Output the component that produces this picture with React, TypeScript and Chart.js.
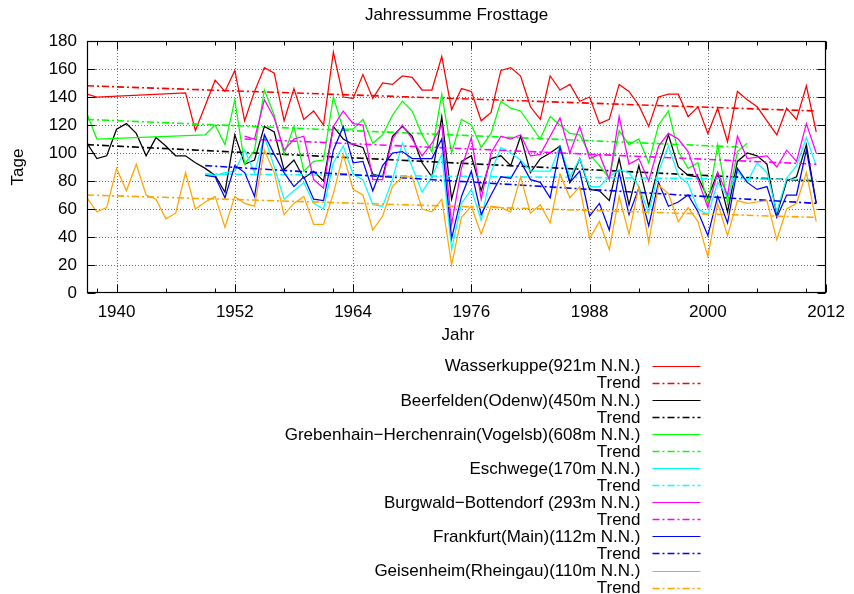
import React, { useEffect, useRef } from "react";
import { Chart, registerables } from "chart.js";

Chart.register(...registerables);

// ---------------- data ----------------
const YEARS = [
  1937, 1938, 1939, 1940, 1941, 1942, 1943, 1944, 1945, 1946,
  1947, 1948, 1949, 1950, 1951, 1952, 1953, 1954, 1955, 1956,
  1957, 1958, 1959, 1960, 1961, 1962, 1963, 1964, 1965, 1966,
  1967, 1968, 1969, 1970, 1971, 1972, 1973, 1974, 1975, 1976,
  1977, 1978, 1979, 1980, 1981, 1982, 1983, 1984, 1985, 1986,
  1987, 1988, 1989, 1990, 1991, 1992, 1993, 1994, 1995, 1996,
  1997, 1998, 1999, 2000, 2001, 2002, 2003, 2004, 2005, 2006,
  2007, 2008, 2009, 2010, 2011,
];

const N = null;

const WASSERKUPPE = [
  142, 140, N, N, N, N, N, N, N, N,
  143, 116, 134, 152, 144, 159, 123, 144, 161, 157,
  123, 146, 124, 130, 120, 172, 140, 139, 156, 139,
  150, 149, 155, 154, 145, 145, 169, 131, 146, 144,
  123, 129, 159, 161, 155, 133, 124, 155, 145, 149,
  137, 140, 121, 124, 149, 144, 134, 119, 140, 142,
  142, 126, 133, 114, 132, 108, 144, 138, 133, 123,
  113, 132, 124, 148, 115,
];

const BEERFELDEN = [
  107, 96, 98, 117, 121, 114, 98, 111, 105, 98,
  98, 93, 89, 84, 72, 113, 92, 95, 119, 115,
  88, 95, 82, 87, 80, 119, 110, 106, 104, 85,
  83, 112, 119, 112, 93, 83, 126, 67, 94, 98,
  73, 96, 98, 91, 112, 86, 96, 100, 105, 79,
  96, 74, 73, 66, 96, 63, 91, 62, 91, 113,
  90, 84, 83, 68, 86, 58, 94, 100, 98, 92,
  56, 80, 83, 106, 64,
];

const GREBENHAIN = [
  128, 110, N, N, N, N, N, N, N, N,
  N, N, 113, 120, 106, 138, 92, 102, 145, 127,
  99, 119, 87, 94, 95, 140, 117, 117, 124, 107,
  113, 127, 137, 130, 113, 101, 142, 100, 124, 120,
  104, 114, 137, 132, 130, 120, 110, 126, 120, 114,
  113, 99, 91, 82, 116, 106, 110, 93, 120, 130,
  101, 89, 93, 63, 106, 64, 101, 107, N, N,
  N, N, N, N, N,
];

const ESCHWEGE = [
  N, N, N, N, N, N, N, N, N, N,
  N, N, 85, 84, 86, 87, 102, 86, 112, 90,
  67, 73, 79, 64, 60, 93, 105, 85, 81, 63,
  62, 81, 107, 90, 72, 83, 99, 31, 64, 74,
  52, 86, 104, 100, 95, 87, 87, 87, 105, 83,
  96, 76, 76, 83, 88, 86, 76, 57, 87, 105,
  84, 78, 60, 56, 79, 69, 87, 79, 93, 86,
  58, 82, 91, 111, 91,
];

const BURGWALD = [
  N, N, N, N, N, N, N, N, N, N,
  N, N, N, N, N, N, 112, 110, 138, 125,
  102, 110, 112, 81, 75, 119, 130, 121, 120, 81,
  81, 110, 120, 110, 98, 107, 120, 49, 89, 111,
  67, 100, 112, 110, 113, 98, 99, 112, 125, 100,
  119, 96, 99, 81, 126, 92, 96, 80, 105, 114,
  110, 101, 81, 61, 86, 70, 112, 96, 97, 98,
  90, 102, 94, 121, 100,
];

const FRANKFURT = [
  N, N, N, N, N, N, N, N, N, N,
  N, N, 84, 83, 68, 91, 86, 69, 113, 99,
  86, 76, 83, 67, 66, 102, 119, 93, 94, 73,
  91, 100, 101, 96, 96, 96, 110, 39, 69, 87,
  56, 70, 83, 82, 94, 81, 79, 68, 104, 79,
  87, 55, 64, 45, 86, 56, 75, 48, 79, 62,
  65, 70, 58, 41, 69, 50, 89, 79, 74, 76,
  54, 70, 70, 102, 64,
];

const GEISENHEIM = [
  68, 58, 61, 89, 73, 92, 70, 67, 53, 57,
  86, 60, 65, 69, 47, 69, 64, 62, 102, 86,
  56, 64, 69, 49, 49, 71, 99, 74, 70, 45,
  55, 76, 83, 83, 60, 58, 67, 20, 54, 62,
  42, 62, 61, 58, 83, 57, 63, 50, 85, 68,
  76, 39, 51, 31, 69, 42, 76, 36, 77, 71,
  51, 61, 51, 26, 64, 41, 66, 64, 65, 66,
  38, 60, 64, 86, 51,
];

// linear trend lines: [start year, end year] and [start value, end value]
const TREND_YEARS_WASSERKUPPE = [1937, 2011];
const TREND_WASSERKUPPE = [148, 130];
const TREND_YEARS_BEERFELDEN = [1937, 2011];
const TREND_BEERFELDEN = [106, 80];
const TREND_YEARS_GREBENHAIN = [1937, 2004];
const TREND_GREBENHAIN = [124, 104];
const TREND_YEARS_ESCHWEGE = [1949, 2011];
const TREND_ESCHWEGE = [85, 81];
const TREND_YEARS_BURGWALD = [1953, 2011];
const TREND_BURGWALD = [110, 92];
const TREND_YEARS_FRANKFURT = [1949, 2011];
const TREND_FRANKFURT = [91, 64];
const TREND_YEARS_GEISENHEIM = [1937, 2011];
const TREND_GEISENHEIM = [70, 54];

const STATION_NAMES = [
  "Wasserkuppe(921m N.N.)",
  "Beerfelden(Odenw)(450m N.N.)",
  "Grebenhain\u2212Herchenrain(Vogelsb)(608m N.N.)",
  "Eschwege(170m N.N.)",
  "Burgwald\u2212Bottendorf (293m N.N.)",
  "Frankfurt(Main)(112m N.N.)",
  "Geisenheim(Rheingau)(110m N.N.)",
];
const TREND_LABEL = "Trend";

const X_MIN = 1937;
const X_MAX = 2012;
const X_TICKS = [1940, 1952, 1964, 1976, 1988, 2000, 2012];
const X_MINOR_TICKS = [1938, 1945, 1950, 1957, 1962, 1969, 1974, 1981, 1986, 1993, 1998, 2005, 2010];
const Y_MIN = 0;
const Y_MAX = 180;
const Y_TICKS = [0, 20, 40, 60, 80, 100, 120, 140, 160, 180];

const TITLE = "Jahressumme Frosttage";
const X_TITLE = "Jahr";
const Y_TITLE = "Tage";

const COLORS = ["#ff0000", "#000000", "#00ff00", "#00ffff", "#ff00ff", "#0000ff", "#ffa500"];
const FONT = '"Liberation Sans", Arial, Helvetica, sans-serif';
const TREND_DASH = [7, 3, 2, 3];

// ---------------- helpers ----------------
function toPoints(years: number[], values: (number | null)[]) {
  const out: { x: number; y: number }[] = [];
  for (let i = 0; i < years.length; i++) {
    const v = values[i];
    if (v !== null && v !== undefined) out.push({ x: years[i], y: v });
  }
  return out;
}

const STATION_VALUES = [WASSERKUPPE, BEERFELDEN, GREBENHAIN, ESCHWEGE, BURGWALD, FRANKFURT, GEISENHEIM];
const TREND_YEARS = [
  TREND_YEARS_WASSERKUPPE, TREND_YEARS_BEERFELDEN, TREND_YEARS_GREBENHAIN, TREND_YEARS_ESCHWEGE,
  TREND_YEARS_BURGWALD, TREND_YEARS_FRANKFURT, TREND_YEARS_GEISENHEIM,
];
const TREND_VALUES = [
  TREND_WASSERKUPPE, TREND_BEERFELDEN, TREND_GREBENHAIN, TREND_ESCHWEGE,
  TREND_BURGWALD, TREND_FRANKFURT, TREND_GEISENHEIM,
];

function buildDatasets() {
  const ds: any[] = [];
  STATION_NAMES.forEach((name, i) => {
    ds.push({
      label: name,
      data: toPoints(YEARS, STATION_VALUES[i]),
      borderColor: COLORS[i],
      backgroundColor: COLORS[i],
      borderWidth: 1.25,
      pointRadius: 0,
      tension: 0,
      fill: false,
    });
    ds.push({
      label: TREND_LABEL,
      data: toPoints(TREND_YEARS[i], TREND_VALUES[i]),
      borderColor: COLORS[i],
      backgroundColor: COLORS[i],
      borderWidth: 1.6,
      borderDash: TREND_DASH,
      pointRadius: 0,
      tension: 0,
      fill: false,
    });
  });
  // later series drawn on top (gnuplot order)
  ds.forEach((d, i) => (d.order = ds.length - i));
  return ds;
}

const decorPlugin = {
  id: "decor",
  beforeDatasetsDraw(chart: any) {
    const { ctx, chartArea: a, scales } = chart;
    const x = scales.x;
    const y = scales.y;
    ctx.save();
    ctx.strokeStyle = "#707070";
    ctx.lineWidth = 1;
    ctx.setLineDash([1, 2]);
    for (const t of X_TICKS) {
      if (t <= X_MIN || t >= X_MAX) continue;
      const px = Math.round(x.getPixelForValue(t)) + 0.5;
      ctx.beginPath();
      ctx.moveTo(px, a.top);
      ctx.lineTo(px, a.bottom);
      ctx.stroke();
    }
    for (const t of Y_TICKS) {
      if (t <= Y_MIN || t >= Y_MAX) continue;
      const py = Math.round(y.getPixelForValue(t)) + 0.5;
      ctx.beginPath();
      ctx.moveTo(a.left, py);
      ctx.lineTo(a.right, py);
      ctx.stroke();
    }
    ctx.restore();
  },
  afterDraw(chart: any) {
    const { ctx, chartArea: a, scales } = chart;
    const x = scales.x;
    const y = scales.y;
    const L = Math.round(a.left) + 0.5;
    const R = Math.round(a.right) - 0.5;
    const T = Math.round(a.top) + 0.5;
    const B = Math.round(a.bottom) - 0.5;
    ctx.save();
    ctx.setLineDash([]);
    ctx.strokeStyle = "#000";
    ctx.lineWidth = 1;
    // ticks (inward, mirrored)
    ctx.beginPath();
    for (const t of X_TICKS) {
      const px = Math.round(x.getPixelForValue(t)) + 0.5;
      ctx.moveTo(px, B); ctx.lineTo(px, B - 8);
      ctx.moveTo(px, T); ctx.lineTo(px, T + 8);
    }
    for (const t of X_MINOR_TICKS) {
      const px = Math.round(x.getPixelForValue(t)) + 0.5;
      ctx.moveTo(px, B); ctx.lineTo(px, B - 4);
      ctx.moveTo(px, T); ctx.lineTo(px, T + 4);
    }
    for (const t of Y_TICKS) {
      const py = Math.round(y.getPixelForValue(t)) + 0.5;
      ctx.moveTo(L, py); ctx.lineTo(L + 8, py);
      ctx.moveTo(R, py); ctx.lineTo(R - 8, py);
    }
    ctx.stroke();
    // frame
    ctx.lineWidth = 1.2;
    ctx.strokeRect(L, T, R - L, B - T);

    // titles
    ctx.fillStyle = "#000";
    ctx.font = `17px ${FONT}`;
    ctx.textAlign = "center";
    ctx.textBaseline = "middle";
    ctx.fillText(TITLE, (a.left + a.right) / 2, 15);
    ctx.fillText(X_TITLE, 458, 335);
    ctx.save();
    ctx.translate(18, (a.top + a.bottom) / 2);
    ctx.rotate(-Math.PI / 2);
    ctx.fillText(Y_TITLE, 0, 0);
    ctx.restore();

    // legend
    const ds = chart.data.datasets;
    const textRight = 640.5;
    const x1 = 652.5;
    const x2 = 700.5;
    ds.forEach((d: any, i: number) => {
      const cy = 365.7 + 17.07 * i;
      ctx.textAlign = "right";
      ctx.textBaseline = "middle";
      ctx.fillStyle = "#000";
      ctx.fillText(d.label, textRight, cy + 1);
      ctx.strokeStyle = d.borderColor;
      ctx.lineWidth = d.borderDash ? 1.3 : 1.1;
      ctx.setLineDash(d.borderDash || []);
      ctx.beginPath();
      const ly = Math.round(cy) + 0.5;
      ctx.moveTo(x1, ly);
      ctx.lineTo(x2, ly);
      ctx.stroke();
    });
    ctx.restore();
  },
};

export default function App() {
  const ref = useRef<HTMLCanvasElement | null>(null);
  useEffect(() => {
    if (!ref.current) return;
    const chart = new Chart(ref.current, {
      type: "line",
      data: { datasets: buildDatasets() },
      options: {
        animation: false,
        responsive: false,
        devicePixelRatio: 1,
        layout: { padding: { top: 41, right: 18, left: 0, bottom: 0 } },
        plugins: {
          legend: { display: false },
          title: { display: false },
          tooltip: { enabled: false },
        },
        scales: {
          x: {
            type: "linear",
            min: X_MIN,
            max: X_MAX,
            afterBuildTicks: (scale: any) => {
              scale.ticks = X_TICKS.map((v) => ({ value: v }));
            },
            afterFit: (scale: any) => {
              scale.height = 301;
            },
            grid: { display: false, drawTicks: false },
            border: { display: false },
            ticks: {
              color: "#000",
              font: { family: FONT, size: 17 },
              padding: 9,
              maxRotation: 0,
              autoSkip: false,
              callback: (v: any) => String(v),
            },
          },
          y: {
            type: "linear",
            min: Y_MIN,
            max: Y_MAX,
            afterBuildTicks: (scale: any) => {
              scale.ticks = Y_TICKS.map((v) => ({ value: v }));
            },
            afterFit: (scale: any) => {
              scale.width = 87;
            },
            grid: { display: false, drawTicks: false },
            border: { display: false },
            ticks: {
              color: "#000",
              font: { family: FONT, size: 17 },
              padding: 10,
              autoSkip: false,
              callback: (v: any) => String(v),
            },
          },
        },
      },
      plugins: [decorPlugin],
    } as any);
    return () => chart.destroy();
  }, []);
  return (
    <div style={{ position: "fixed", left: 0, top: 0, width: 854, height: 594, background: "#fff" }}>
      <canvas ref={ref} width={854} height={594} style={{ display: "block" }} />
    </div>
  );
}
